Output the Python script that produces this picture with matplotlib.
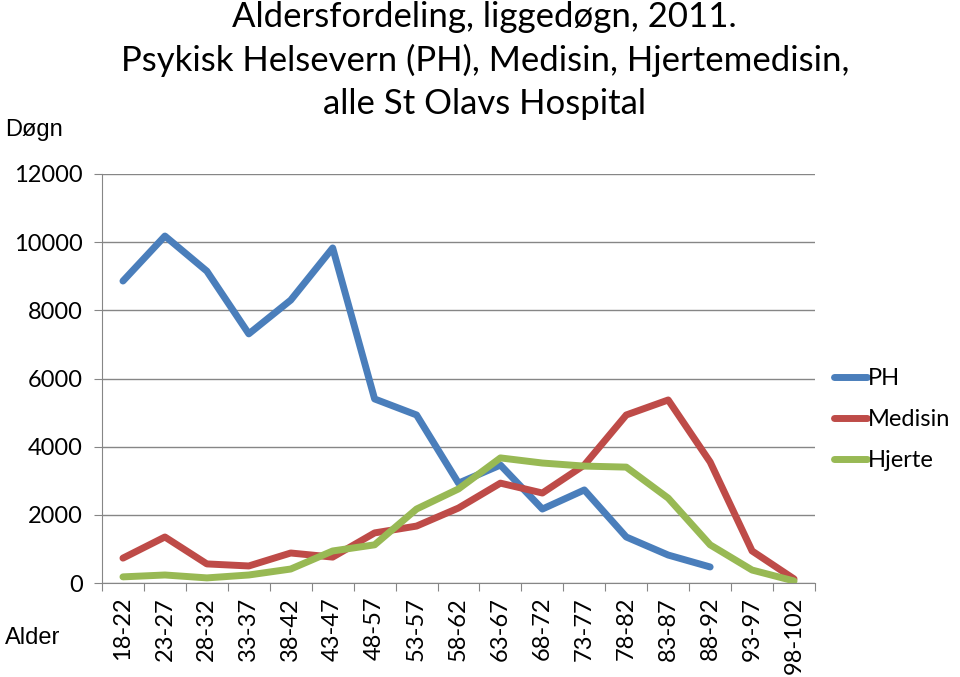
import numpy as np
import matplotlib
matplotlib.use('Agg')
import matplotlib.pyplot as plt

# Data
alder = ['18-22', '23-27', '28-32', '33-37', '38-42', '43-47', '48-57', '53-57',
         '58-62', '63-67', '68-72', '73-77', '78-82', '83-87', '88-92', '93-97', '98-102']
ph = [8860, 10180, 9150, 7310, 8300, 9830, 5400, 4930, 2930, 3460, 2170, 2730,
      1350, 820, 470, np.nan, np.nan]
medisin = [730, 1350, 560, 500, 880, 760, 1470, 1670, 2200, 2930, 2640, 3460,
           4930, 5370, 3550, 940, 120]
hjerte = [180, 235, 150, 235, 410, 940, 1120, 2170, 2760, 3670, 3520, 3430,
          3400, 2490, 1120, 380, 60]

fig = plt.figure(figsize=(9.6, 6.77), dpi=100)
ax = fig.add_axes([102/960, 1 - 583/677, (815 - 102)/960, (583 - 174)/677])

x = np.arange(len(alder))
ax.plot(x, ph, color='#4A7EBB', lw=5, solid_capstyle='round', label='PH')
ax.plot(x, medisin, color='#BE4B48', lw=5, solid_capstyle='round', label='Medisin')
ax.plot(x, hjerte, color='#98B954', lw=5, solid_capstyle='round', label='Hjerte')

ax.set_xlim(-0.5, len(alder) - 0.5)
ax.set_ylim(0, 12000)
ax.set_yticks(np.arange(0, 12001, 2000))
ax.grid(axis='y', color='#868686', lw=1)
ax.set_axisbelow(True)
for s in ['top', 'right']:
    ax.spines[s].set_visible(False)
ax.spines['left'].set_color('#868686')
ax.spines['bottom'].set_color('#868686')

# category ticks between groups, labels at centers
ax.set_xticks(np.arange(len(alder) + 1) - 0.5)
ax.set_xticklabels([])
ax.set_xticks(x, minor=True)
ax.set_xticklabels(alder, minor=True, rotation=90, fontsize=17, family='Lato')
ax.tick_params(axis='x', which='minor', length=0, pad=10)
ax.tick_params(axis='x', which='major', length=6, color='#868686', direction='out')
ax.tick_params(axis='y', length=6, color='#868686', labelsize=17, pad=8)
for t in ax.get_yticklabels():
    t.set_family('Lato')

leg = ax.legend(loc='center left', bbox_to_anchor=(1.0, 0.40), frameon=False,
                prop={'family': 'Lato', 'size': 17}, handlelength=1.4,
                handletextpad=0.05, labelspacing=0.85, borderaxespad=0.4)

fig.text(0.505, 0.998, 'Aldersfordeling, liggedøgn, 2011.\nPsykisk Helsevern (PH), Medisin, Hjertemedisin,\nalle St Olavs Hospital',
         ha='center', va='top', fontsize=25, family='Lato', linespacing=1.4)
fig.text(5/960, 1 - 130/677, 'Døgn', fontsize=17, family='Liberation Sans', va='center')
fig.text(5/960, 1 - 638/677, 'Alder', fontsize=17, family='Liberation Sans', va='center')

fig.savefig('out.png', dpi=100)
